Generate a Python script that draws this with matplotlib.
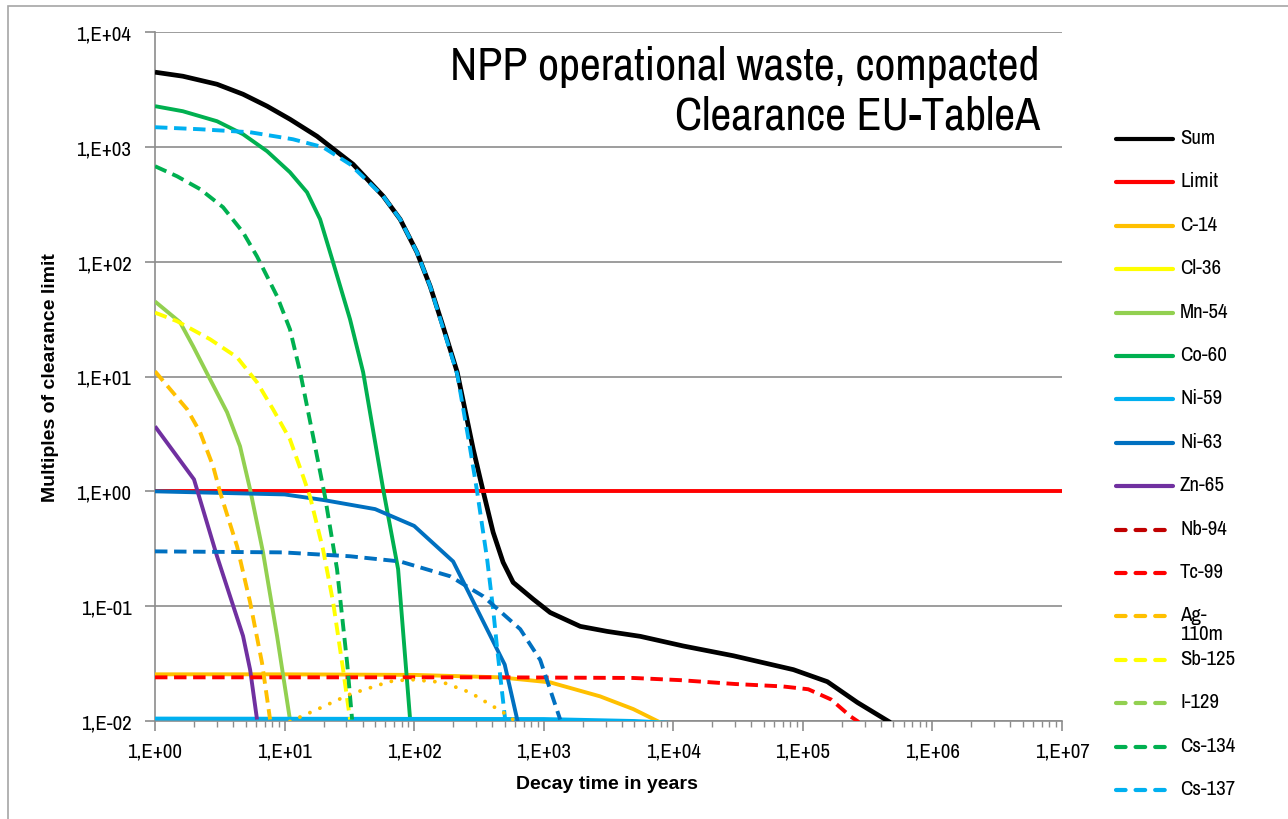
import math
import matplotlib
matplotlib.use('Agg')
import matplotlib.pyplot as plt
from matplotlib.lines import Line2D
from matplotlib.patches import Rectangle
from matplotlib.ticker import FixedLocator, FuncFormatter, LogLocator, NullFormatter

plt.rcParams['font.family'] = ['Archivo Narrow', 'PT Sans Narrow', 'Liberation Sans', 'DejaVu Sans']
BOLD_FONT = ['Liberation Sans', 'DejaVu Sans']

# decay time (years) and multiples of clearance limit
sum_x = [1, 1.64, 3.01, 4.78, 7.33, 11.0, 17.8, 33.8, 57.7, 78, 105, 133, 167, 215, 286,
         341, 407, 486, 581, 830, 1122, 1914, 3090, 5560, 11940, 29040, 84530, 154500,
         263600, 474000]
sum_y = [4467, 4121, 3508, 2871, 2260, 1740, 1236, 705, 372, 234, 121, 61, 27.4, 10.9, 2.32,
         1.0, 0.44, 0.241, 0.161, 0.115, 0.088, 0.0667, 0.0603, 0.0546, 0.045, 0.037, 0.028,
         0.022, 0.0145, 0.0097]

limit_x = [1, 1e7]
limit_y = [1.0, 1.0]

c14_x = [1, 10, 100, 462, 1122, 2718, 4909, 7950]
c14_y = [0.0255, 0.0255, 0.0252, 0.0240, 0.0217, 0.0164, 0.0127, 0.0097]

mn54_x = [1, 1.56, 1.97, 2.66, 3.60, 4.53, 5.42, 6.82, 8.75, 11.0]
mn54_y = [45, 29.7, 18.3, 9.46, 4.88, 2.47, 1.04, 0.294, 0.055, 0.0103]

co60_x = [1, 1.64, 3.01, 4.78, 7.33, 11.0, 14.9, 18.8, 23.3, 32.0, 40.4, 57.7, 75.2, 93.1]
co60_y = [2260, 2042, 1671, 1288, 916, 601, 402, 234, 105, 31.5, 10.9, 1.04, 0.21, 0.0103]

ni59_x = [1, 1000, 5000, 10000, 20000]
ni59_y = [0.0105, 0.0104, 0.0100, 0.0096, 0.0088]

ni63_x = [1, 10, 20, 50, 100, 200, 500, 1000]
ni63_y = [1.0, 0.94, 0.84, 0.70, 0.50, 0.245, 0.031, 0.001]

zn65_x = [1, 2.0, 3.01, 4.78, 5.42, 6.13]
zn65_y = [3.68, 1.27, 0.272, 0.055, 0.028, 0.0103]

tc99_x = [1, 462, 4909, 11220, 30000, 70000, 110000, 165000, 235000, 270000]
tc99_y = [0.024, 0.024, 0.0237, 0.0227, 0.0210, 0.0200, 0.0189, 0.0154, 0.0109, 0.0098]

ag110m_x = [1, 1.31, 1.77, 2.23, 2.81, 3.18, 4.30, 5.42, 6.70, 7.73]
ag110m_y = [11.1, 7.74, 5.18, 3.27, 1.65, 0.98, 0.332, 0.108, 0.032, 0.0103]

sb125_x = [1, 1.48, 2.66, 4.30, 6.13, 8.15, 11.0, 13.9, 15.7, 19.8, 23.7, 28.3, 32.0]
sb125_y = [36, 30.3, 21.1, 14.7, 8.9, 5.18, 2.84, 1.35, 0.904, 0.313, 0.108, 0.028, 0.0103]

cs134_x = [1, 1.48, 2.23, 3.35, 4.78, 6.13, 8.75, 11.0, 13.2, 16.6, 20.5, 25.4, 30.4, 33.2]
cs134_y = [678, 554, 428, 298, 180, 111, 50, 25.8, 10.9, 3.01, 0.904, 0.21, 0.032, 0.0103]

cs137_x = [1, 2.23, 5.42, 11.6, 19.8, 32.0, 57.7, 78, 105, 133, 167, 215, 271, 306, 366,
           407, 438, 504]
cs137_y = [1482, 1423, 1340, 1164, 993, 705, 372, 234, 121, 61, 26.5, 10.5, 2.32, 1.0,
           0.256, 0.094, 0.042, 0.0103]

# two more series whose legend entries lie outside the picture
extra_dash_x = [1, 9.7, 32, 78, 190, 341, 659, 940, 1340]
extra_dash_y = [0.30, 0.294, 0.272, 0.245, 0.182, 0.122, 0.063, 0.034, 0.0103]

extra_dot_x = [11.0, 17.8, 32, 65, 93, 167, 271, 407, 486, 624]
extra_dot_y = [0.0099, 0.0126, 0.0171, 0.0221, 0.0230, 0.0217, 0.0177, 0.0134, 0.0119, 0.0097]

SOLID = '-'
DASH = (0, (3.2, 1.7))
DOT = (0, (0.01, 2.8))

# legend order: label, colour, style, data
series = [
    ('Sum', 'black', SOLID, sum_x, sum_y),
    ('Limit', '#FF0000', SOLID, limit_x, limit_y),
    ('C-14', '#FFC000', SOLID, c14_x, c14_y),
    ('Cl-36', '#FFFF00', SOLID, None, None),
    ('Mn-54', '#92D050', SOLID, mn54_x, mn54_y),
    ('Co-60', '#00B050', SOLID, co60_x, co60_y),
    ('Ni-59', '#00B0F0', SOLID, ni59_x, ni59_y),
    ('Ni-63', '#0070C0', SOLID, ni63_x, ni63_y),
    ('Zn-65', '#7030A0', SOLID, zn65_x, zn65_y),
    ('Nb-94', '#C00000', DASH, None, None),
    ('Tc-99', '#FF0000', DASH, tc99_x, tc99_y),
    ('Ag-\n110m', '#FFC000', DASH, ag110m_x, ag110m_y),
    ('Sb-125', '#FFFF00', DASH, sb125_x, sb125_y),
    ('I-129', '#92D050', DASH, None, None),
    ('Cs-134', '#00B050', DASH, cs134_x, cs134_y),
    ('Cs-137', '#00B0F0', DASH, cs137_x, cs137_y),
    (None, '#0070C0', DASH, extra_dash_x, extra_dash_y),
    (None, '#FFC000', DOT, extra_dot_x, extra_dot_y),
]

W, H = 1288, 820
fig = plt.figure(figsize=(W / 100, H / 100), dpi=100)
ax = fig.add_axes([155 / W, 1 - 722 / H, (1062 - 155) / W, (722 - 33) / H])

for label, color, ls, xs, ys in series:
    if xs is None:
        continue
    lw = 3.4 if label == 'Sum' else 2.8
    ax.plot(xs, ys, color=color, linestyle=ls, lw=lw, zorder=3,
            solid_joinstyle='round', solid_capstyle='butt',
            dash_capstyle='round' if ls == DOT else 'butt')

ax.set_xscale('log')
ax.set_yscale('log')
ax.set_xlim(1, 1e7)
ax.set_ylim(1e-2, 1e4)

grey = '#8C8C8C'
for side in ['top', 'right']:
    ax.spines[side].set_visible(False)
for side in ['left', 'bottom']:
    ax.spines[side].set_color(grey)
    ax.spines[side].set_linewidth(1.2)

ax.yaxis.set_major_locator(FixedLocator([10.0 ** e for e in range(-2, 5)]))
ax.yaxis.set_minor_locator(FixedLocator([]))
ax.xaxis.set_major_locator(FixedLocator([10.0 ** e for e in range(0, 8)]))
ax.xaxis.set_minor_locator(LogLocator(base=10, subs=range(2, 10), numticks=20))
ax.xaxis.set_minor_formatter(NullFormatter())
fmt = FuncFormatter(lambda v, p: '1,E{:+03d}'.format(int(round(math.log10(v)))))
ax.xaxis.set_major_formatter(fmt)
ax.yaxis.set_major_formatter(fmt)
ax.tick_params(axis='both', which='major', direction='out', length=7, width=1.2,
               color=grey, labelsize=15, labelcolor='black')
ax.tick_params(axis='x', which='minor', direction='out', length=4, width=1.0, color=grey)
ax.tick_params(axis='x', which='major', pad=8)
ax.tick_params(axis='y', which='major', pad=10)
ax.grid(True, axis='y', which='major', color=grey, lw=1.2, zorder=0)
ax.set_axisbelow(True)

ax.set_ylabel('Multiples of clearance limit', fontsize=14, fontweight='bold', family=BOLD_FONT)
ax.set_xlabel('Decay time in years', fontsize=14, fontweight='bold', family=BOLD_FONT)
ax.yaxis.set_label_coords((59 - 155) / 907, 0.5)
ax.xaxis.set_label_coords(0.498, (722 - 776) / 689)

title_lines = ['NPP operational waste, compacted', 'Clearance EU-TableA']
for txt, base in zip(title_lines, [80, 130]):
    ax.text((1040 - 155) / 907, (722 - base) / 689, txt, transform=ax.transAxes,
            ha='right', va='baseline', fontsize=33)

# legend drawn by hand so the rows keep an even spacing
y_top = 140
dy = 43.4
for i, (label, color, ls, xs, ys) in enumerate(series):
    if label is None:
        continue
    yp = 1 - (y_top + i * dy) / H
    x1 = 1173 if ls == SOLID else 1168
    fig.add_artist(Line2D([1116 / W, x1 / W], [yp, yp], color=color, lw=3.0,
                          linestyle=(0, (2.3, 2.4)) if ls != SOLID else '-',
                          solid_capstyle='round', dash_capstyle='round'))
    fig.text(1180 / W, yp + 11 / H, label, ha='left', va='top', fontsize=15,
             linespacing=1.0)

# chart area border
fig.add_artist(Rectangle((8 / W, -0.05), 1.1, 1 - 7 / H + 0.05, transform=fig.transFigure,
                         fill=False, edgecolor='#A6A6A6', lw=1.2))

fig.savefig('out.png', dpi=100)
